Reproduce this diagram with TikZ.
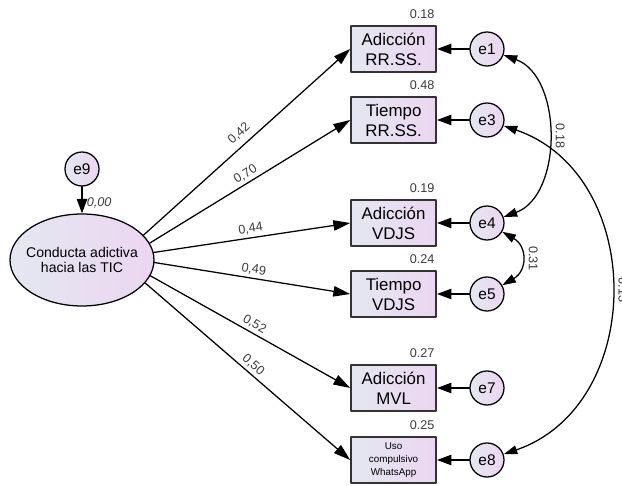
\documentclass[tikz,border=0pt]{standalone}
\usepackage{fontspec}
\setmainfont{Liberation Sans}
\usepackage{xcolor}
\usetikzlibrary{arrows.meta,shapes.geometric,positioning}
\definecolor{fillL}{HTML}{E4E7F1}
\definecolor{fillR}{HTML}{ECD6F1}
\definecolor{frame}{HTML}{333333}
\definecolor{numtext}{HTML}{3A3A3A}
\tikzset{
  ObsBox/.style={
    draw=frame, line width=1.3pt,
    left color=fillL, right color=fillR,
    minimum width=2.125cm, minimum height=1.15cm,
    inner sep=0pt, align=center,
    font=\fontsize{12}{14.2}\selectfont
  },
  ErrCirc/.style={
    circle, draw=black, line width=0.9pt,
    left color=fillL, right color=fillR,
    minimum size=0.85cm, inner sep=0pt,
    font=\fontsize{11}{13}\selectfont
  },
  Factor/.style={
    ellipse, draw=black, line width=0.9pt,
    left color=fillL, right color=fillR,
    minimum width=3.6cm, minimum height=2.3cm,
    inner xsep=-3.6pt, inner ysep=0pt, align=center,
    font=\fontsize{10}{10.7}\selectfont
  },
  Path/.style={-{Triangle[length=0.42cm,width=0.26cm]}, line width=0.9pt},
  ErrPath/.style={-{Triangle[length=0.36cm,width=0.26cm]}, line width=0.9pt},
  CovPath/.style={{Triangle[length=0.34cm,width=0.22cm]}-{Triangle[length=0.34cm,width=0.22cm]}, line width=0.9pt},
  Coef/.style={font=\fontsize{9}{10}\selectfont, text=numtext, inner sep=2pt},
  CovLbl/.style={Coef, pos=0.5, anchor=south, xshift=3pt, rotate=-90},
  RSq/.style={anchor=south east, xshift=-0.02cm, yshift=0.12cm,
    font=\fontsize{9}{10}\selectfont, text=numtext, inner sep=1pt}
}

\begin{document}
\begin{tikzpicture}[line cap=round, line join=round]
  \useasboundingbox (0,0) rectangle (15.55,12.15);

  % Latent factor and its disturbance
  \node[Factor] (fac) at (2.05,5.65) {Conducta adictiva\\hacia las TIC};
  \node[ErrCirc] (e9) at (2.05,7.925) {e9};

  % Observed indicators (with R^2 above)
  \node[ObsBox, label={[RSq]north east:0.18}] (b1) at (9.84,10.925) {Adicción\\RR.SS.};
  \node[ObsBox, label={[RSq]north east:0.48}] (b2) at (9.84,9.15) {Tiempo\\RR.SS.};
  \node[ObsBox, label={[RSq]north east:0.19}] (b3) at (9.84,6.575) {Adicción\\VDJS};
  \node[ObsBox, label={[RSq]north east:0.24}] (b4) at (9.84,4.8) {Tiempo\\VDJS};
  \node[ObsBox, label={[RSq]north east:0.27}] (b5) at (9.84,2.45) {Adicción\\MVL};
  \node[ObsBox, label={[RSq]north east:0.25}, font=\fontsize{7}{9.2}\selectfont] (b6) at (9.84,0.65) {Uso\\compulsivo\\WhatsApp};

  % Error terms
  \node[ErrCirc] (e1) at (12.175,10.925) {e1};
  \node[ErrCirc] (e3) at (12.175,9.15) {e3};
  \node[ErrCirc] (e4) at (12.175,6.575) {e4};
  \node[ErrCirc] (e5) at (12.175,4.8) {e5};
  \node[ErrCirc] (e7) at (12.175,2.45) {e7};
  \node[ErrCirc] (e8) at (12.175,0.65) {e8};

  % Loadings
  \draw[Path] (fac.22) -- node[Coef, sloped, above, yshift=2pt] {0,42} (b1.west);
  \draw[Path] (fac.14) -- node[Coef, sloped, above] {0,70} (b2.west);
  \draw[Path] (fac.6) -- node[Coef, sloped, above] {0,44} (b3.west);
  \draw[Path] (fac.-2) -- node[Coef, sloped, above] {0,49} (b4.west);
  \draw[Path] (fac.-13) -- node[Coef, sloped, above] {0,52} (b5.west);
  \draw[Path] (fac.-20) -- node[Coef, sloped, above] {0,50} (b6.west);
  \draw[ErrPath] (e9) -- node[Coef, right, pos=0.6, xshift=1pt, font=\fontsize{9}{10}\selectfont\itshape] {0,00} (fac);

  % Error paths
  \foreach \e/\b in {e1/b1, e3/b2, e4/b3, e5/b4, e7/b5, e8/b6}
    \draw[ErrPath] (\e) -- (\b);

  % Covariances between errors
  \draw[CovPath] (e1) to[out=-20, in=20] node[CovLbl] {0.18} (e4);
  \draw[CovPath] (e4) to[out=-30, in=30, looseness=1.4] node[CovLbl] {0.31} (e5);
  \draw[CovPath] (e3) to[out=-19, in=19, looseness=1.18] node[CovLbl] {0.13} (e8);
\end{tikzpicture}
\end{document}
